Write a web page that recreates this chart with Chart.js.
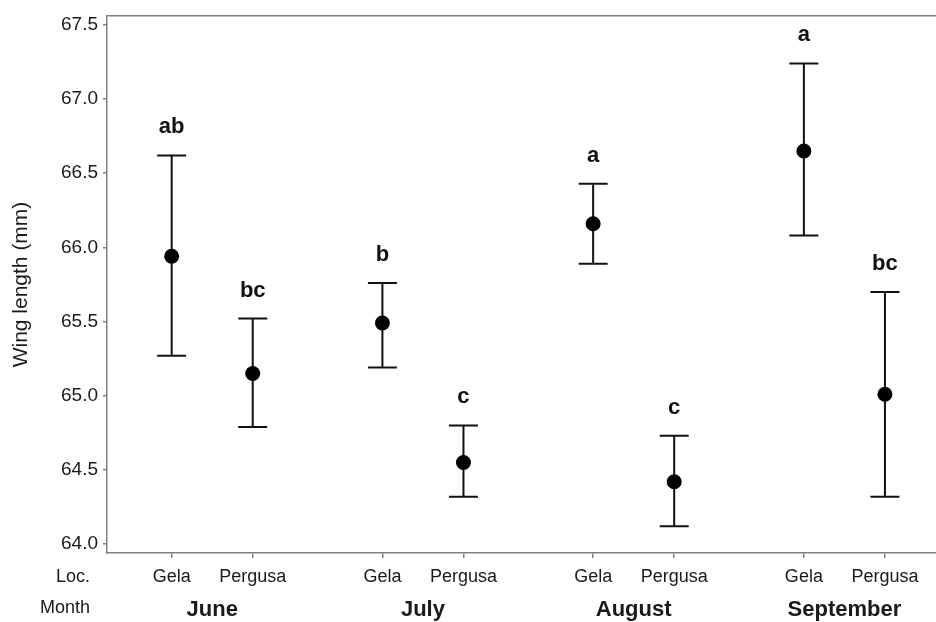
<!DOCTYPE html>
<html><head><meta charset="utf-8">
<script src="https://cdn.jsdelivr.net/npm/chart.js@4/dist/chart.umd.min.js"></script>
<style>html,body{margin:0;padding:0;background:#fff;} #wrap{width:936px;height:622px;position:relative;}</style>
</head><body><div id="wrap"><canvas id="c" width="936" height="622"></canvas></div>
<script>
const months = ['June', 'July', 'August', 'September'];
const locations = ['Gela', 'Pergusa'];
const gelaMean = [65.94, 65.49, 66.16, 66.65];
const gelaUpper = [66.62, 65.76, 66.43, 67.24];
const gelaLower = [65.27, 65.19, 65.89, 66.08];
const pergusaMean = [65.15, 64.55, 64.42, 65.01];
const pergusaUpper = [65.52, 64.80, 64.73, 65.70];
const pergusaLower = [64.79, 64.32, 64.12, 64.32];
const gelaLetters = ['ab', 'b', 'a', 'a'];
const pergusaLetters = ['bc', 'c', 'c', 'bc'];
const yTicks = [64.0, 64.5, 65.0, 65.5, 66.0, 66.5, 67.0, 67.5];

const GROUP = 2.6;
const FONT = "'Liberation Sans', Arial, sans-serif";
const AXIS = '#808080';
const TEXT = '#1a1a1a';

const points = [];
months.forEach((m, mi) => {
  points.push({x: mi * GROUP + 0, y: gelaMean[mi], lo: gelaLower[mi], hi: gelaUpper[mi], letter: gelaLetters[mi], loc: locations[0]});
  points.push({x: mi * GROUP + 1, y: pergusaMean[mi], lo: pergusaLower[mi], hi: pergusaUpper[mi], letter: pergusaLetters[mi], loc: locations[1]});
});

const errorPlugin = {
  id: 'errbars',
  beforeDatasetsDraw(chart) {
    const {ctx, scales: {x, y}} = chart;
    ctx.save();
    ctx.strokeStyle = '#111';
    ctx.lineWidth = 2;
    points.forEach(p => {
      const px = x.getPixelForValue(p.x);
      const ph = y.getPixelForValue(p.hi);
      const pl = y.getPixelForValue(p.lo);
      ctx.beginPath();
      ctx.moveTo(px, ph); ctx.lineTo(px, pl);
      ctx.moveTo(px - 14.5, ph); ctx.lineTo(px + 14.5, ph);
      ctx.moveTo(px - 14.5, pl); ctx.lineTo(px + 14.5, pl);
      ctx.stroke();
    });
    ctx.fillStyle = '#111';
    ctx.font = 'bold 22px ' + FONT;
    ctx.textAlign = 'center';
    ctx.textBaseline = 'alphabetic';
    points.forEach(p => {
      const px = x.getPixelForValue(p.x);
      const ph = y.getPixelForValue(p.hi);
      ctx.fillText(p.letter, px, ph - 22);
    });
    ctx.restore();
  },
  afterDraw(chart) {
    const {ctx, scales: {x}} = chart;
    ctx.save();
    ctx.fillStyle = TEXT;
    ctx.font = '18px ' + FONT;
    ctx.textAlign = 'right';
    ctx.textBaseline = 'alphabetic';
    ctx.fillText('Loc.', 90, 582);
    ctx.fillText('Month', 90, 613);
    ctx.font = 'bold 22px ' + FONT;
    ctx.textAlign = 'center';
    months.forEach((m, mi) => {
      const cx = (x.getPixelForValue(mi * GROUP) + x.getPixelForValue(mi * GROUP + 1)) / 2;
      ctx.fillText(m, cx, 616);
    });
    ctx.restore();
  }
};

new Chart(document.getElementById('c'), {
  type: 'scatter',
  data: {
    datasets: [{
      data: points,
      pointRadius: 7.5,
      pointHoverRadius: 7.5,
      pointBackgroundColor: '#000',
      pointBorderWidth: 0,
      showLine: false
    }]
  },
  options: {
    responsive: false,
    animation: false,
    events: [],
    layout: {autoPadding: false, padding: {top: 16, left: 0, right: 0, bottom: 0}},
    plugins: {legend: {display: false}, tooltip: {enabled: false}},
    scales: {
      x: {
        type: 'linear',
        position: 'bottom',
        min: -0.798,
        max: 9.43,
        afterBuildTicks: s => { s.ticks = points.map(p => ({value: p.x})); },
        afterFit: s => { s.height = 69; s.paddingLeft = 0; s.paddingRight = 0; },
        ticks: {
          callback: (v, i) => points[i] ? points[i].loc : '',
          font: {family: FONT, size: 18},
          color: TEXT,
          padding: 8,
          autoSkip: false,
          maxRotation: 0
        },
        grid: {drawOnChartArea: false, drawTicks: true, tickLength: 5, color: AXIS, lineWidth: 1.5},
        border: {display: true, color: AXIS, width: 1.5}
      },
      x2: {
        type: 'linear',
        position: 'top',
        min: -0.798,
        max: 9.43,
        ticks: {display: false},
        grid: {drawOnChartArea: false, drawTicks: false},
        border: {display: true, color: AXIS, width: 1.5},
        afterFit: s => { s.height = 0; s.paddingLeft = 0; s.paddingRight = 0; }
      },
      y: {
        type: 'linear',
        min: 63.94,
        max: 67.56,
        afterBuildTicks: s => { s.ticks = yTicks.map(v => ({value: v})); },
        afterFit: s => { s.width = 107; s.paddingTop = 0; s.paddingBottom = 0; },
        ticks: {
          callback: v => Number(v).toFixed(1),
          font: {family: FONT, size: 19},
          color: TEXT,
          padding: 5
        },
        grid: {drawOnChartArea: false, drawTicks: true, tickLength: 4, color: AXIS, lineWidth: 1.5},
        border: {display: true, color: AXIS, width: 1.5},
        title: {
          display: true,
          text: 'Wing length (mm)',
          font: {family: FONT, size: 21},
          color: TEXT,
          padding: {top: 9, bottom: 0}
        }
      }
    }
  },
  plugins: [errorPlugin]
});
</script>
</body></html>
